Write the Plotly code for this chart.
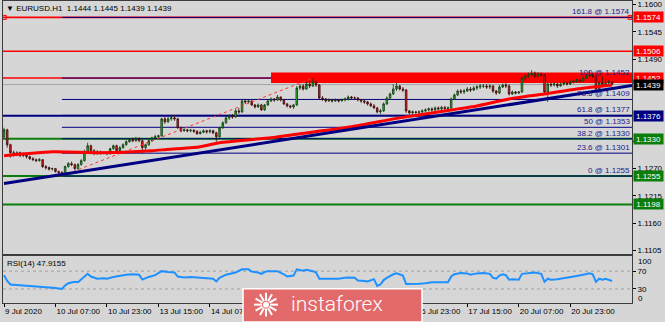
import math
import plotly.graph_objects as go

W, H = 665, 322

# ---------------- data ----------------
first_open = 1.1334
closes = [
    1.1348, 1.1318, 1.1302, 1.1298, 1.1302, 1.1296, 1.1299, 1.1294, 1.1290, 1.1288,
    1.1286, 1.1288, 1.1274, 1.1272, 1.1269, 1.1270, 1.1264, 1.1262, 1.1260, 1.1274,
    1.1280, 1.1278, 1.1270, 1.1278, 1.1286, 1.1304, 1.1316, 1.1306, 1.1300, 1.1304,
    1.1301, 1.1302, 1.1300, 1.1310, 1.1316, 1.1306, 1.1312, 1.1318, 1.1324, 1.1328,
    1.1326, 1.1330, 1.1326, 1.1312, 1.1318, 1.1326, 1.1332, 1.1334, 1.1336, 1.1370,
    1.1364, 1.1370, 1.1372, 1.1370, 1.1352, 1.1346, 1.1348, 1.1346, 1.1347, 1.1345,
    1.1340, 1.1343, 1.1346, 1.1344, 1.1346, 1.1342, 1.1334, 1.1352, 1.1362, 1.1372,
    1.1376, 1.1374, 1.1386, 1.1384, 1.1406, 1.1404, 1.1406, 1.1398, 1.1394, 1.1398,
    1.1388, 1.1398, 1.1406, 1.1410, 1.1408, 1.1414, 1.1408, 1.1400, 1.1396, 1.1394,
    1.1398, 1.1432, 1.1436, 1.1430, 1.1440, 1.1436, 1.1444, 1.1438, 1.1412, 1.1410,
    1.1406, 1.1408, 1.1406, 1.1408, 1.1406, 1.1408, 1.1410, 1.1414, 1.1412, 1.1412,
    1.1408, 1.1406, 1.1404, 1.1400, 1.1396, 1.1392, 1.1384, 1.1386, 1.1400, 1.1412,
    1.1420, 1.1430, 1.1436, 1.1430, 1.1428, 1.1386, 1.1382, 1.1384, 1.1383, 1.1384,
    1.1386, 1.1388, 1.1390, 1.1388, 1.1392, 1.1390, 1.1393, 1.1391, 1.1392, 1.1410,
    1.1418, 1.1426, 1.1424, 1.1426, 1.1430, 1.1428, 1.1432, 1.1434, 1.1436, 1.1436,
    1.1434, 1.1436, 1.1426, 1.1422, 1.1434, 1.1438, 1.1436, 1.1420, 1.1424, 1.1422,
    1.1424, 1.1452, 1.1456, 1.1458, 1.1462, 1.1456, 1.1460, 1.1458, 1.1424, 1.1440,
    1.1438, 1.1440, 1.1436, 1.1440, 1.1442, 1.1440, 1.1444, 1.1446, 1.1448, 1.1446,
    1.1452, 1.1456, 1.1458, 1.1456, 1.1430, 1.1442, 1.1438, 1.1442, 1.1444, 1.1439,
]
highs = [
    1.1352, 1.1350, 1.1320, 1.1306, 1.1305, 1.1304, 1.1302, 1.1301, 1.1296, 1.1293,
    1.1290, 1.1291, 1.1289, 1.1277, 1.1274, 1.1272, 1.1271, 1.1266, 1.1265, 1.1276,
    1.1283, 1.1284, 1.1280, 1.1281, 1.1289, 1.1308, 1.1322, 1.1318, 1.1309, 1.1307,
    1.1306, 1.1305, 1.1303, 1.1312, 1.1318, 1.1318, 1.1315, 1.1321, 1.1327, 1.1331,
    1.1332, 1.1334, 1.1333, 1.1328, 1.1320, 1.1329, 1.1334, 1.1338, 1.1338, 1.1372,
    1.1374, 1.1374, 1.1376, 1.1378, 1.1372, 1.1354, 1.1351, 1.1350, 1.1350, 1.1349,
    1.1347, 1.1346, 1.1349, 1.1348, 1.1349, 1.1348, 1.1344, 1.1354, 1.1365, 1.1375,
    1.1379, 1.1380, 1.1390, 1.1392, 1.1409, 1.1410, 1.1409, 1.1407, 1.1400, 1.1401,
    1.1400, 1.1400, 1.1409, 1.1413, 1.1412, 1.1418, 1.1415, 1.1410, 1.1402, 1.1398,
    1.1400, 1.1436, 1.1440, 1.1440, 1.1444, 1.1446, 1.1452, 1.1447, 1.1440, 1.1416,
    1.1412, 1.1411, 1.1410, 1.1411, 1.1410, 1.1411, 1.1413, 1.1417, 1.1416, 1.1415,
    1.1414, 1.1410, 1.1408, 1.1406, 1.1403, 1.1400, 1.1394, 1.1390, 1.1403, 1.1415,
    1.1423, 1.1440, 1.1443, 1.1438, 1.1434, 1.1430, 1.1388, 1.1387, 1.1386, 1.1387,
    1.1389, 1.1391, 1.1393, 1.1393, 1.1395, 1.1395, 1.1396, 1.1396, 1.1395, 1.1413,
    1.1421, 1.1429, 1.1430, 1.1430, 1.1434, 1.1434, 1.1436, 1.1438, 1.1440, 1.1440,
    1.1440, 1.1440, 1.1438, 1.1428, 1.1438, 1.1441, 1.1442, 1.1440, 1.1427, 1.1426,
    1.1426, 1.1455, 1.1460, 1.1463, 1.1468, 1.1465, 1.1464, 1.1463, 1.1460, 1.1444,
    1.1443, 1.1444, 1.1442, 1.1443, 1.1445, 1.1445, 1.1447, 1.1449, 1.1451, 1.1451,
    1.1455, 1.1460, 1.1466, 1.1462, 1.1458, 1.1446, 1.1455, 1.1450, 1.1448, 1.1445,
]
lows = [
    1.1330, 1.1312, 1.1292, 1.1294, 1.1295, 1.1293, 1.1293, 1.1290, 1.1287, 1.1285,
    1.1283, 1.1284, 1.1271, 1.1268, 1.1266, 1.1266, 1.1262, 1.1258, 1.1255, 1.1258,
    1.1272, 1.1275, 1.1267, 1.1268, 1.1276, 1.1284, 1.1302, 1.1303, 1.1297, 1.1298,
    1.1298, 1.1299, 1.1297, 1.1298, 1.1308, 1.1304, 1.1305, 1.1310, 1.1316, 1.1322,
    1.1323, 1.1324, 1.1323, 1.1300, 1.1308, 1.1316, 1.1324, 1.1330, 1.1331, 1.1334,
    1.1360, 1.1362, 1.1366, 1.1366, 1.1350, 1.1343, 1.1344, 1.1343, 1.1343, 1.1342,
    1.1338, 1.1339, 1.1341, 1.1340, 1.1341, 1.1339, 1.1324, 1.1332, 1.1350, 1.1360,
    1.1368, 1.1370, 1.1372, 1.1380, 1.1382, 1.1400, 1.1401, 1.1396, 1.1391, 1.1392,
    1.1386, 1.1386, 1.1396, 1.1404, 1.1404, 1.1406, 1.1405, 1.1398, 1.1393, 1.1391,
    1.1390, 1.1396, 1.1428, 1.1427, 1.1428, 1.1432, 1.1434, 1.1434, 1.1410, 1.1406,
    1.1403, 1.1404, 1.1403, 1.1404, 1.1403, 1.1405, 1.1405, 1.1407, 1.1408, 1.1409,
    1.1405, 1.1402, 1.1400, 1.1397, 1.1394, 1.1390, 1.1381, 1.1380, 1.1384, 1.1398,
    1.1410, 1.1418, 1.1426, 1.1427, 1.1424, 1.1382, 1.1379, 1.1379, 1.1380, 1.1380,
    1.1381, 1.1383, 1.1385, 1.1385, 1.1386, 1.1387, 1.1388, 1.1388, 1.1386, 1.1390,
    1.1408, 1.1416, 1.1420, 1.1420, 1.1424, 1.1424, 1.1426, 1.1428, 1.1430, 1.1432,
    1.1430, 1.1430, 1.1422, 1.1418, 1.1420, 1.1432, 1.1432, 1.1417, 1.1418, 1.1419,
    1.1420, 1.1422, 1.1448, 1.1452, 1.1455, 1.1452, 1.1454, 1.1454, 1.1420, 1.1404,
    1.1434, 1.1435, 1.1432, 1.1435, 1.1437, 1.1437, 1.1438, 1.1441, 1.1443, 1.1443,
    1.1444, 1.1450, 1.1453, 1.1452, 1.1426, 1.1424, 1.1434, 1.1436, 1.1438, 1.1439,
]
opens = [first_open] + closes[:-1]
bar_index = list(range(len(closes)))

time_tick_bars = [0, 16, 32, 48, 64, 80, 96, 112, 128, 144, 160, 176]
time_tick_labels = ["9 Jul 2020", "10 Jul 07:00", "10 Jul 23:00", "13 Jul 15:00",
                    "14 Jul 07:00", "14 Jul 23:00", "15 Jul 15:00", "16 Jul 07:00",
                    "16 Jul 23:00", "17 Jul 15:00", "20 Jul 07:00", "20 Jul 23:00"]

# visible price-scale ticks (1.1435 and 1.1380 are hidden under the line labels in the original)
price_ticks = [1.1600, 1.1545, 1.1490, 1.1325, 1.1270, 1.1215, 1.1160, 1.1105]

ma_bars = [0, 15, 30, 46, 50, 61, 67, 83, 92, 108, 123, 139, 147, 157, 168, 178, 189]
ma_values = [1.1296, 1.1304, 1.1302, 1.1306, 1.1308, 1.1314, 1.1322, 1.1332, 1.1340,
             1.1354, 1.1372, 1.1388, 1.1396, 1.1410, 1.1420, 1.1430, 1.1438]

rsi_bars = [0, 1, 2, 4, 5, 7, 9, 11, 12, 14, 16, 18, 19, 20, 22, 23, 25, 26, 27, 29,
            31, 32, 34, 36, 38, 40, 42, 43, 45, 47, 49, 51, 53, 54, 56, 58, 61, 63, 65, 66,
            67, 69, 70, 72, 74, 76, 77, 79, 80, 81, 82, 84, 85, 87, 88, 90, 91, 93, 94, 96,
            97, 98, 100, 102, 104, 106, 107, 109, 110, 112, 113, 115, 116, 117, 118, 119, 121, 122, 123, 124,
            125, 127, 129, 131, 133, 135, 137, 138, 139, 140, 142, 144, 145, 147, 149, 151, 152, 153, 154, 155,
            156, 157, 158, 160, 161, 163, 165, 167, 168, 169, 170, 172, 174, 176, 178, 180, 182, 183, 184, 185,
            186, 187, 188, 189]
rsi_values = [61, 48, 40, 39, 38, 37, 36, 36, 34, 33, 32, 30, 38, 43, 46, 45, 58, 64, 58, 53,
              54, 53, 57, 60, 62, 63, 62, 51, 57, 61, 70, 68, 67, 58, 56, 57, 56, 55, 53, 47,
              55, 62, 64, 67, 74, 74, 69, 67, 64, 68, 70, 69, 70, 63, 58, 60, 74, 71, 73, 70,
              67, 53, 53, 52, 53, 55, 56, 55, 49, 48, 47, 52, 37, 40, 50, 55, 63, 65, 62, 60,
              41, 41, 42, 43, 45, 45, 44, 45, 58, 63, 66, 65, 62, 65, 66, 64, 55, 53, 60, 63,
              61, 51, 52, 51, 64, 66, 67, 64, 46, 53, 51, 52, 54, 56, 59, 62, 65, 63, 46, 53,
              51, 53, 50, 47.9155]
rsi_levels = [70, 30]

trend_bars = [0, 195.2]
trend_prices = [1.1240, 1.1437]

fib_anchor_bars = [18, 96]
fib_anchor_prices = [1.1255, 1.1452]
fib_names = ["161.8", "100", "78.6", "61.8", "50", "38.2", "23.6", "0"]
fib_prices = [1.1574, 1.1452, 1.1409, 1.1377, 1.1353, 1.1330, 1.1301, 1.1255]

hline_prices = [1.1574, 1.1506, 1.1452, 1.1439, 1.1376, 1.1330, 1.1255, 1.1198]
hline_colors = ["#ff0000", "#ff0000", "#ff0000", "#a6a6a6", "#000080", "#0b7d0b", "#0b7d0b", "#0b7d0b"]
hline_widths = [1.6, 1.6, 1.6, 1, 2, 2, 2, 2]
label_colors = ["#ff0000", "#ff0000", "#ff0000", "#000000", "#000080", "#0b7d0b", "#0b7d0b", "#0b7d0b"]

zone_start_bar = 83
zone_prices = [1.1442, 1.1463]

# ---------------- layout geometry ----------------
BG = "#d6d6d6"
X_RANGE = [-0.31, 195.2]
P_RANGE = [1.10990, 1.160697]
R_RANGE = [-1.8, 104.2]
x_dom = [3 / W, 632 / W]
y_dom = [1 - 255 / H, 1.0]
y2_dom = [1 - 305 / H, 1 - 257.3 / H]
FONT = "Liberation Sans"

fig = go.Figure()

fig.add_trace(go.Candlestick(
    x=bar_index, open=opens, high=highs, low=lows, close=closes,
    increasing=dict(line=dict(color="#0e3a0e", width=0.8), fillcolor="#2fb52f"),
    decreasing=dict(line=dict(color="#3a0a0a", width=0.8), fillcolor="#e81c1c"),
    whiskerwidth=0, hoverinfo="skip", showlegend=False, xaxis="x", yaxis="y"))

# fib diagonal
fig.add_trace(go.Scatter(x=fib_anchor_bars, y=fib_anchor_prices, mode="lines",
                         line=dict(color="#ff3030", width=1, dash="dot"), hoverinfo="skip",
                         showlegend=False, xaxis="x", yaxis="y"))
# moving average
fig.add_trace(go.Scatter(x=ma_bars, y=ma_values, mode="lines",
                         line=dict(color="#ff0000", width=3, shape="spline", smoothing=0.6),
                         hoverinfo="skip", showlegend=False, xaxis="x", yaxis="y"))
# trend line
fig.add_trace(go.Scatter(x=trend_bars, y=trend_prices, mode="lines", line=dict(color="#000080", width=3),
                         hoverinfo="skip", showlegend=False, xaxis="x", yaxis="y"))
# selection handles on top line
fig.add_trace(go.Scatter(x=[X_RANGE[0] + 0.4, X_RANGE[1] - 0.6], y=[hline_prices[0]] * 2, mode="markers",
                         marker=dict(symbol="square-open", size=4, color="#ff0000", line=dict(width=1)),
                         hoverinfo="skip", showlegend=False, xaxis="x", yaxis="y"))

# RSI
fig.add_trace(go.Scatter(x=rsi_bars, y=rsi_values, mode="lines", line=dict(color="#1e90ff", width=2),
                         hoverinfo="skip", showlegend=False, xaxis="x2", yaxis="y2"))

shapes = []
# fib ray lines (underneath everything else)
for p in fib_prices:
    shapes.append(dict(type="line", xref="x", yref="y", x0=fib_anchor_bars[0], x1=X_RANGE[1], y0=p, y1=p,
                       line=dict(color="#000080", width=1), layer="below"))
# resistance zone
shapes.append(dict(type="rect", xref="x", yref="y", x0=zone_start_bar, x1=X_RANGE[1],
                   y0=zone_prices[0], y1=zone_prices[1], fillcolor="#ff0000", line=dict(width=0), layer="below"))
for p, c, w in zip(hline_prices, hline_colors, hline_widths):
    shapes.append(dict(type="line", xref="x domain", yref="y", x0=0, x1=1, y0=p, y1=p,
                       line=dict(color=c, width=w), layer="below"))
for lv in rsi_levels:
    shapes.append(dict(type="line", xref="x2 domain", yref="y2", x0=0, x1=1, y0=lv, y1=lv,
                       line=dict(color="#a0a0a0", width=1, dash="dot"), layer="below"))

# instaforex logo (decoration)
LX0, LX1, LY0, LY1 = 243, 422, 290.5, 324
shapes.append(dict(type="rect", xref="paper", yref="paper", x0=LX0 / W, x1=LX1 / W,
                   y0=1 - LY1 / H, y1=1 - LY0 / H, fillcolor="#e36a6a",
                   line=dict(color="#ffffff", width=1.5), layer="above"))
cx, cy, r = 266, 306.5, 12
for k in range(12):
    a = k * math.pi / 6
    shapes.append(dict(type="line", xref="paper", yref="paper",
                       x0=(cx + 4 * math.cos(a)) / W, y0=1 - (cy + 4 * math.sin(a)) / H,
                       x1=(cx + r * math.cos(a)) / W, y1=1 - (cy + r * math.sin(a)) / H,
                       line=dict(color="#ffffff", width=2), layer="above"))
shapes.append(dict(type="circle", xref="paper", yref="paper", x0=(cx - 3) / W, x1=(cx + 3) / W,
                   y0=1 - (cy + 3) / H, y1=1 - (cy - 3) / H, fillcolor="#ffffff",
                   line=dict(width=0), layer="above"))

ann = []
# header
ann.append(dict(xref="paper", yref="paper", x=4 / W, y=1 - 8 / H, xanchor="left", yanchor="middle",
                text="\u25bc EURUSD.H1  %.4f %.4f %.4f %.4f" % (opens[-1], highs[-1], lows[-1], closes[-1]),
                showarrow=False, font=dict(family=FONT, size=8, color="#000000")))
ann.append(dict(xref="paper", yref="paper", x=5 / W, y=1 - 265 / H, xanchor="left", yanchor="middle",
                text="RSI(14) %.4f" % rsi_values[-1], showarrow=False,
                font=dict(family=FONT, size=8, color="#000000")))
# fib labels
for n, p in zip(fib_names, fib_prices):
    ann.append(dict(xref="paper", yref="y", x=631 / W, y=p, xanchor="right", yanchor="bottom",
                    text="%s @ %.4f" % (n, p), showarrow=False, borderpad=0,
                    font=dict(family=FONT, size=8, color="#1c1c8a")))
# price labels on axis
for p, c in zip(hline_prices, label_colors):
    ann.append(dict(xref="paper", yref="y", x=633 / W, y=p, xanchor="left", yanchor="middle",
                    text="%.4f" % p, showarrow=False, bgcolor=c, borderpad=1, width=27, height=8,
                    font=dict(family=FONT, size=8, color="#ffffff")))
# RSI 100 / 0 labels
for v, sh in [(100, -4), (0, 4)]:
    ann.append(dict(xref="paper", yref="y2", x=636 / W, y=v, yshift=sh, xanchor="left", yanchor="middle",
                    text=str(v), showarrow=False, font=dict(family=FONT, size=8, color="#000000")))
ann.append(dict(xref="paper", yref="paper", x=289 / W, y=1 - 306 / H, xanchor="left", yanchor="middle",
                text="instaforex", showarrow=False,
                font=dict(family="Roboto", size=21, color="#ffffff", weight=300)))

axis_common = dict(showgrid=False, zeroline=False, showline=True, linecolor="#3c3c3c", linewidth=1, mirror=True)

fig.update_layout(
    width=W, height=H, margin=dict(l=0, r=0, t=0, b=0),
    paper_bgcolor=BG, plot_bgcolor=BG, showlegend=False,
    xaxis=dict(domain=x_dom, range=X_RANGE, anchor="y", showticklabels=False, ticks="",
               rangeslider=dict(visible=False), **axis_common),
    yaxis=dict(domain=y_dom, range=P_RANGE, anchor="x", side="right", tickvals=price_ticks,
               ticktext=["%.4f" % v for v in price_ticks], ticks="outside", ticklen=3, tickcolor="#000000",
               tickfont=dict(family=FONT, size=8, color="#000000"), **axis_common),
    xaxis2=dict(domain=x_dom, range=X_RANGE, anchor="y2", matches="x", tickvals=time_tick_bars,
                ticktext=time_tick_labels, ticks="outside", ticklen=3, tickcolor="#000000",
                ticklabelposition="outside right", tickangle=0,
                tickfont=dict(family=FONT, size=8, color="#000000"), **axis_common),
    yaxis2=dict(domain=y2_dom, range=R_RANGE, anchor="x2", side="right", tickvals=rsi_levels,
                ticktext=[str(v) for v in rsi_levels], ticks="outside", ticklen=3, tickcolor="#000000",
                tickfont=dict(family=FONT, size=8, color="#000000"), **axis_common),
    shapes=shapes, annotations=ann, hovermode=False,
)

fig.write_html("out.html")
